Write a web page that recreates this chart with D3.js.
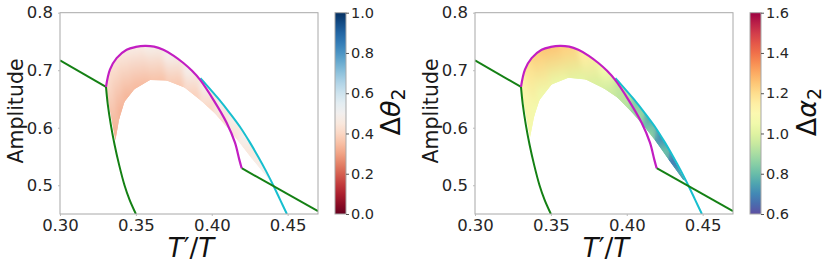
<!DOCTYPE html>
<html>
<head>
<meta charset="utf-8">
<script src="https://cdn.jsdelivr.net/npm/d3@7"></script>
<style>
  body { margin: 0; background: #fff; }
  text { font-family: "DejaVu Sans", sans-serif; }
</style>
</head>
<body>
<div id="chart"></div>
<script>
// ---- data ----
const xTicks = [0.30, 0.35, 0.40, 0.45];
const yTicks = [0.5, 0.6, 0.7, 0.8];
const thetaTicks = [0.0, 0.2, 0.4, 0.6, 0.8, 1.0];
const alphaTicks = [0.6, 0.8, 1.0, 1.2, 1.4, 1.6];

// boundary lines [T'/T, amplitude]
const greenUpper = [[0.300, 0.717], [0.3303, 0.671]];
const greenLower = [[0.3303, 0.671], [0.3315, 0.640], [0.3335, 0.605], [0.3360, 0.570],
    [0.3390, 0.535], [0.3425, 0.500], [0.3458, 0.475], [0.3500, 0.450]];
const greenRight = [[0.4197, 0.5296], [0.4700, 0.455]];
const magenta = [[0.3303, 0.671], [0.3329, 0.701], [0.3373, 0.721], [0.3439, 0.7355],
    [0.3500, 0.7405], [0.3560, 0.7424], [0.3620, 0.7410], [0.3681, 0.7355], [0.3750, 0.7250],
    [0.3813, 0.7125], [0.3870, 0.6990], [0.3922, 0.6836], [0.4010, 0.6490], [0.4098, 0.6087],
    [0.4153, 0.5740], [0.4181, 0.5450], [0.4197, 0.5296]];
const cyan = [[0.3925, 0.686], [0.3963, 0.675], [0.4045, 0.650], [0.4120, 0.625],
    [0.4190, 0.600], [0.4250, 0.575], [0.4305, 0.550], [0.4357, 0.525], [0.4405, 0.500],
    [0.4450, 0.475], [0.4495, 0.450]];

// filled band: outer edge stations and inner edge stations (same count)
const bandOuter = [[0.3303, 0.671], [0.3329, 0.701], [0.3373, 0.721], [0.3439, 0.7355],
    [0.3560, 0.7424], [0.3681, 0.7355], [0.3813, 0.7125], [0.3922, 0.6836], [0.4035, 0.654],
    [0.4120, 0.625], [0.4195, 0.598], [0.4285, 0.558], [0.4385, 0.508]];
const thetaInner = [[0.3365, 0.578], [0.3390, 0.615], [0.3425, 0.645], [0.3490, 0.667],
    [0.3593, 0.683], [0.3703, 0.682], [0.3820, 0.670], [0.3930, 0.647], [0.4020, 0.625],
    [0.4100, 0.601], [0.4180, 0.575], [0.4260, 0.548], [0.4340, 0.522]];
const alphaInner = [[0.3362, 0.582], [0.3390, 0.620], [0.3425, 0.648], [0.3505, 0.675],
    [0.3615, 0.687], [0.3730, 0.684], [0.3850, 0.668], [0.3940, 0.652], [0.4030, 0.628],
    [0.4110, 0.604], [0.4190, 0.577], [0.4280, 0.543], [0.4370, 0.510]];

// colour values at each station
const thetaOuterVals = [0.42, 0.43, 0.44, 0.46, 0.47, 0.48, 0.48, 0.48, 0.48, 0.48, 0.49, 0.49, 0.49];
const thetaInnerVals = [0.33, 0.33, 0.33, 0.34, 0.35, 0.36, 0.38, 0.40, 0.41, 0.43, 0.44, 0.46, 0.48];
const alphaOuterVals = [1.10, 1.17, 1.22, 1.25, 1.25, 1.20, 1.11, 1.00, 0.88, 0.80, 0.74, 0.70, 0.68];
const alphaInnerVals = [1.06, 1.06, 1.05, 1.04, 1.02, 1.00, 0.97, 0.94, 0.91, 0.88, 0.84, 0.78, 0.72];

// ---- layout ----
const W = 831, H = 262;
const svg = d3.select("#chart").append("svg")
    .attr("width", W).attr("height", H);
svg.append("rect").attr("width", W).attr("height", H).attr("fill", "#fff");
const defs = svg.append("defs");

// soft blur used to hide the seams between band slices
defs.append("filter").attr("id", "soften")
    .attr("x", "-10%").attr("y", "-10%").attr("width", "120%").attr("height", "120%")
    .append("feGaussianBlur").attr("stdDeviation", 2.5);

const thetaColor = d3.scaleSequential(d3.interpolateRdBu).domain([0, 1]);
const alphaColor = d3.scaleSequential(t => d3.interpolateSpectral(1 - t)).domain([0.6, 1.6]);

function drawPanel(cfg) {
    const left = cfg.left, right = left + 258, top = 12.7, bottom = 214;
    const x = d3.scaleLinear().domain([0.30, 0.47]).range([left, right]);
    const y = d3.scaleLinear().domain([0.45, 0.80]).range([bottom, top]);
    const line = d3.line().x(d => x(d[0])).y(d => y(d[1]));
    const g = svg.append("g");

    defs.append("clipPath").attr("id", "clip" + cfg.id)
        .append("rect").attr("x", left).attr("y", top)
        .attr("width", right - left).attr("height", bottom - top);
    defs.append("clipPath").attr("id", "region" + cfg.id)
        .append("path")
        .attr("d", line(bandOuter.concat(cfg.inner.slice().reverse())) + "Z");

    // gradients for each slice of the band, shaded outer -> inner
    for (let i = 0; i < bandOuter.length - 1; i++) {
        const o0 = bandOuter[i], o1 = bandOuter[i + 1];
        const n0 = cfg.inner[i], n1 = cfg.inner[i + 1];
        const grad = defs.append("linearGradient").attr("id", `grad${cfg.id}_${i}`)
            .attr("gradientUnits", "userSpaceOnUse")
            .attr("x1", x((o0[0] + o1[0]) / 2)).attr("y1", y((o0[1] + o1[1]) / 2))
            .attr("x2", x((n0[0] + n1[0]) / 2)).attr("y2", y((n0[1] + n1[1]) / 2));
        grad.append("stop").attr("offset", 0)
            .attr("stop-color", cfg.color((cfg.outerVals[i] + cfg.outerVals[i + 1]) / 2));
        grad.append("stop").attr("offset", 1)
            .attr("stop-color", cfg.color((cfg.innerVals[i] + cfg.innerVals[i + 1]) / 2));
    }
    const quads = d3.range(bandOuter.length - 1);
    const band = g.append("g").attr("clip-path", `url(#region${cfg.id})`);
    [null, "url(#soften)"].forEach(f => {
        band.append("g").attr("filter", f)
            .selectAll("path").data(quads).join("path")
            .attr("d", i => line([bandOuter[i], bandOuter[i + 1], cfg.inner[i + 1], cfg.inner[i]]) + "Z")
            .attr("fill", i => `url(#grad${cfg.id}_${i})`)
            .attr("stroke", i => `url(#grad${cfg.id}_${i})`)
            .attr("stroke-width", 1.5);
    });

    // curves
    const smooth = d3.line().x(d => x(d[0])).y(d => y(d[1])).curve(d3.curveCatmullRom);
    const lines = g.append("g").attr("clip-path", `url(#clip${cfg.id})`)
        .attr("fill", "none").attr("stroke-linejoin", "round");
    lines.append("path").attr("d", smooth(cyan)).attr("stroke", "#17bfcf").attr("stroke-width", 2);
    lines.append("path").attr("d", line(greenUpper)).attr("stroke", "#148014").attr("stroke-width", 2);
    lines.append("path").attr("d", smooth(greenLower)).attr("stroke", "#148014").attr("stroke-width", 2);
    lines.append("path").attr("d", line(greenRight)).attr("stroke", "#148014").attr("stroke-width", 2);
    lines.append("path").attr("d", smooth(magenta)).attr("stroke", "#c21ec2").attr("stroke-width", 2.2);

    // frame
    g.append("rect").attr("x", left).attr("y", top)
        .attr("width", right - left).attr("height", bottom - top)
        .attr("fill", "none").attr("stroke", "#a8a8a8").attr("stroke-width", 1);

    // axes
    const xAxis = g.append("g").attr("transform", `translate(0,${bottom})`)
        .call(d3.axisBottom(x).tickValues(xTicks).tickFormat(d3.format(".2f")).tickSize(2).tickPadding(3));
    const yAxis = g.append("g").attr("transform", `translate(${left},0)`)
        .call(d3.axisLeft(y).tickValues(yTicks).tickFormat(d3.format(".1f")).tickSize(2).tickPadding(5));
    [xAxis, yAxis].forEach(a => {
        a.select(".domain").remove();
        a.selectAll("line").attr("stroke", "#bbb");
        a.selectAll("text").attr("fill", "#262626").style("font-size", "16.5px")
            .style("font-family", "DejaVu Sans");
    });

    g.append("text")
        .attr("transform", `translate(${left - 37.5},111) rotate(-90)`)
        .attr("text-anchor", "middle").attr("fill", "#1a1a1a")
        .style("font-size", "20.5px").text("Amplitude");

    const xl = g.append("text").attr("x", (left + right) / 2 + 2).attr("y", 256.5)
        .attr("text-anchor", "middle").attr("fill", "#111").style("font-size", "26px");
    xl.append("tspan").style("font-style", "italic").text("T");
    xl.append("tspan").text("′/");
    xl.append("tspan").style("font-style", "italic").text("T");

    // colorbar
    const cbLeft = left + 275, cbW = 11;
    const cb = d3.scaleLinear().domain(cfg.cbDomain).range([bottom, top]);
    const cg = defs.append("linearGradient").attr("id", "cb" + cfg.id)
        .attr("x1", 0).attr("y1", 1).attr("x2", 0).attr("y2", 0);
    d3.range(0, 1.0001, 0.05).forEach(t => {
        cg.append("stop").attr("offset", t)
            .attr("stop-color", cfg.color(cfg.cbDomain[0] + t * (cfg.cbDomain[1] - cfg.cbDomain[0])));
    });
    g.append("rect").attr("x", cbLeft).attr("y", top)
        .attr("width", cbW).attr("height", bottom - top)
        .attr("fill", `url(#cb${cfg.id})`).attr("stroke", "#a8a8a8").attr("stroke-width", 1);
    const cAxis = g.append("g").attr("transform", `translate(${cbLeft + cbW},0)`)
        .call(d3.axisRight(cb).tickValues(cfg.cbTicks).tickFormat(d3.format(".1f")).tickSize(3).tickPadding(2));
    cAxis.select(".domain").remove();
    cAxis.selectAll("line").attr("stroke", "#555");
    cAxis.selectAll("text").attr("fill", "#262626").style("font-size", "14.5px")
        .style("font-family", "DejaVu Sans");

    const cl = g.append("text")
        .attr("transform", `translate(${cfg.labelX},112) rotate(-90)`)
        .attr("text-anchor", "middle").attr("fill", "#111").style("font-size", "27px");
    cl.append("tspan").text("Δ");
    cl.append("tspan").style("font-style", "italic").text(cfg.symbol);
    cl.append("tspan").attr("dy", 5).style("font-size", "19px").text("2");
}

drawPanel({ id: "L", left: 60, inner: thetaInner, outerVals: thetaOuterVals, innerVals: thetaInnerVals,
    color: thetaColor, cbDomain: [0, 1], cbTicks: thetaTicks, labelX: 400, symbol: "θ" });
drawPanel({ id: "R", left: 475, inner: alphaInner, outerVals: alphaOuterVals, innerVals: alphaInnerVals,
    color: alphaColor, cbDomain: [0.6, 1.6], cbTicks: alphaTicks, labelX: 816, symbol: "α" });
</script>
</body>
</html>
